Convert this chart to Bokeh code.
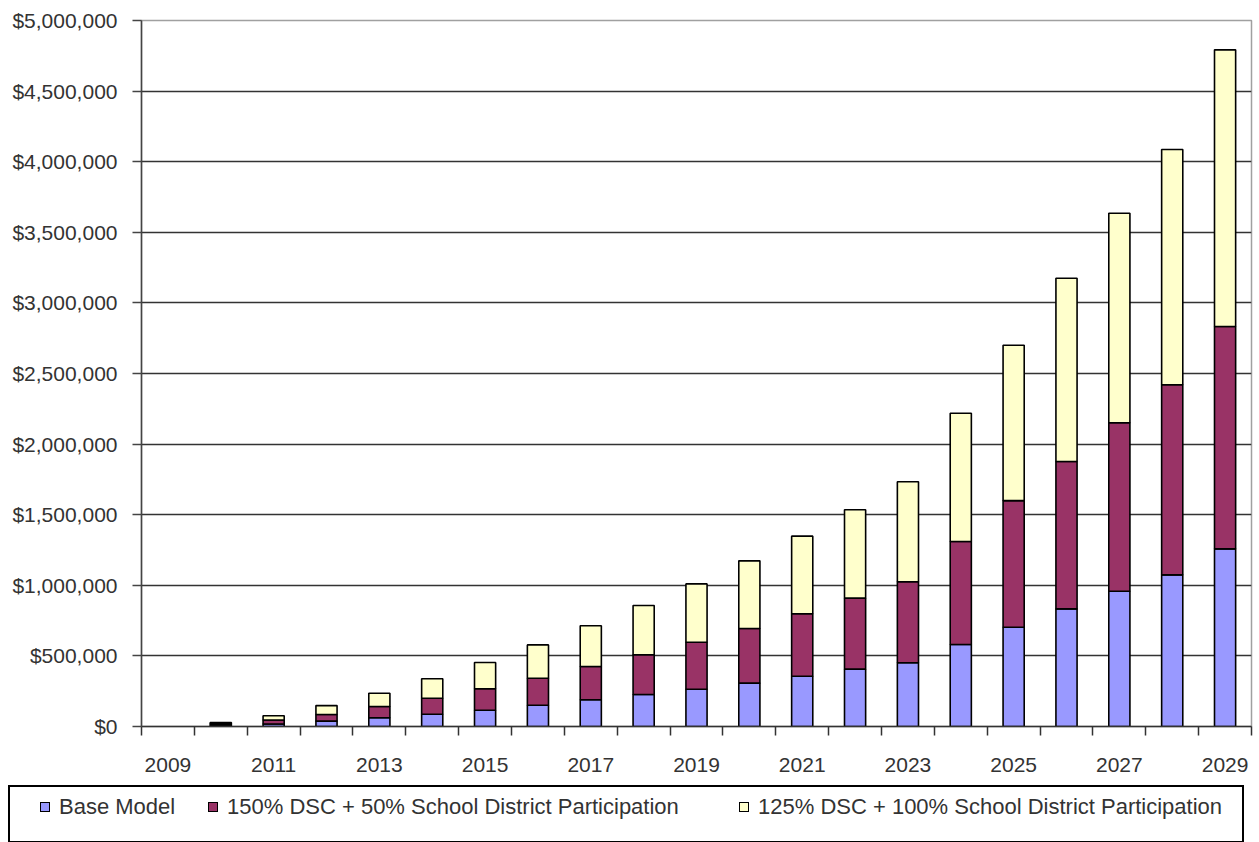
from bokeh.plotting import figure
from bokeh.models import (Range1d, FixedTicker, NumeralTickFormatter,
                          ColumnDataSource, Div)
from bokeh.layouts import column
from bokeh.embed import file_html
from bokeh.resources import INLINE

# ---------------- data ----------------
axis_first_year = 2009
axis_last_year = 2029
years = [2010, 2011, 2012, 2013, 2014, 2015, 2016, 2017, 2018, 2019,
         2020, 2021, 2022, 2023, 2024, 2025, 2026, 2027, 2028, 2029]
base_model = [10000, 18000, 38000, 62000, 87000, 115000, 151000, 189000,
              227000, 264000, 307000, 356000, 406000, 451000, 581000, 703000,
              833000, 958000, 1074000, 1258000]
dsc150_sd50 = [9000, 28000, 47000, 80000, 113000, 152000, 191000, 236000,
               281000, 333000, 387000, 442000, 503000, 574000, 729000, 897000,
               1044000, 1193000, 1346000, 1575000]
dsc125_sd100 = [9000, 30000, 63000, 94000, 138000, 186000, 236000, 288000,
                349000, 413000, 479000, 550000, 626000, 708000, 909000, 1100000,
                1298000, 1484000, 1666000, 1959000]
series_names = ["Base Model",
                "150% DSC + 50% School District Participation",
                "125% DSC + 100% School District Participation"]
colors = ["#9999FF", "#993366", "#FFFFCC"]
x_tick_labels = ["2009", "2011", "2013", "2015", "2017", "2019", "2021",
                 "2023", "2025", "2027", "2029"]
y_ticks = [0, 500000, 1000000, 1500000, 2000000, 2500000, 3000000, 3500000,
           4000000, 4500000, 5000000]

FONT = "Liberation Sans"
TXT = "#333333"

source = ColumnDataSource(dict(year=years, base=base_model,
                               s150=dsc150_sd50, s125=dsc125_sd100))

p = figure(width=1253, height=787, output_backend="svg", toolbar_location=None,
           x_range=Range1d(axis_first_year - 0.5, axis_last_year + 0.5),
           y_range=Range1d(y_ticks[0], y_ticks[-1]),
           min_border_left=141, min_border_right=2, min_border_top=20,
           min_border_bottom=61)
p.outline_line_color = "#a0a0a0"
p.outline_line_width = 1.5
p.background_fill_color = "white"
p.border_fill_color = "white"

bars = p.vbar_stack(["base", "s150", "s125"], x="year", width=0.4,
                    source=source, fill_color=colors, line_color="black",
                    line_width=1.6)

# y axis
p.yaxis.ticker = FixedTicker(ticks=y_ticks)
p.yaxis.formatter = NumeralTickFormatter(format="$0,0")
p.yaxis.major_label_text_font = FONT
p.yaxis.major_label_text_font_size = "21px"
p.yaxis.major_label_text_color = TXT
p.yaxis.major_tick_out = 9
p.yaxis.major_tick_in = 0
p.yaxis.minor_tick_out = 0
p.yaxis.minor_tick_in = 0
p.yaxis.major_label_standoff = 15
p.yaxis.axis_line_color = "#444444"
p.yaxis.axis_line_width = 1.5
p.yaxis.major_tick_line_color = "#444444"
p.yaxis.major_tick_line_width = 1.5

# x axis (Excel style: ticks between categories, labels every other year)
n_cat = axis_last_year - axis_first_year + 1
minor = [axis_first_year - 0.5 + i for i in range(n_cat + 1)]
major = [int(s) for s in x_tick_labels]
p.xaxis.ticker = FixedTicker(ticks=major, minor_ticks=minor)
p.xaxis.major_label_overrides = {int(s): s for s in x_tick_labels}
p.xaxis.major_tick_out = 0
p.xaxis.major_tick_in = 0
p.xaxis.minor_tick_out = 9
p.xaxis.minor_tick_in = 0
p.xaxis.minor_tick_line_color = "#333333"
p.xaxis.minor_tick_line_width = 1.5
p.xaxis.axis_line_color = "#333333"
p.xaxis.axis_line_width = 1.5
p.xaxis.major_label_text_font = FONT
p.xaxis.major_label_text_font_size = "21px"
p.xaxis.major_label_text_color = TXT
p.xaxis.major_label_standoff = 22

# grid
p.xgrid.grid_line_color = None
p.ygrid.ticker = FixedTicker(ticks=y_ticks[1:-1])
p.ygrid.grid_line_color = "#333333"
p.ygrid.grid_line_width = 1.3

# ---------------- legend (boxed strip below the chart) ----------------
item_left = [30, 198, 729]   # square positions inside the box
items_html = ""
for name, col, x in zip(series_names, colors, item_left):
    items_html += (
        f'<div style="position:absolute;left:{x}px;top:15px;width:10px;'
        f'height:10px;background:{col};border:1px solid #000;"></div>'
        f'<div style="position:absolute;left:{x + 19}px;top:8px;'
        f'line-height:24px;font-size:22px;white-space:nowrap;color:{TXT};">'
        f'{name}</div>')
legend_html = (
    f'<div style="position:relative;left:3px;top:-7px;width:1236px;'
    f'height:58px;border:2px solid #000;background:#fff;'
    f'font-family:\'{FONT}\';">{items_html}</div>')
legend_div = Div(text=legend_html, width=1253, height=55)

layout = column(p, legend_div, spacing=0)
open("out.html", "w").write(file_html(layout, INLINE))
